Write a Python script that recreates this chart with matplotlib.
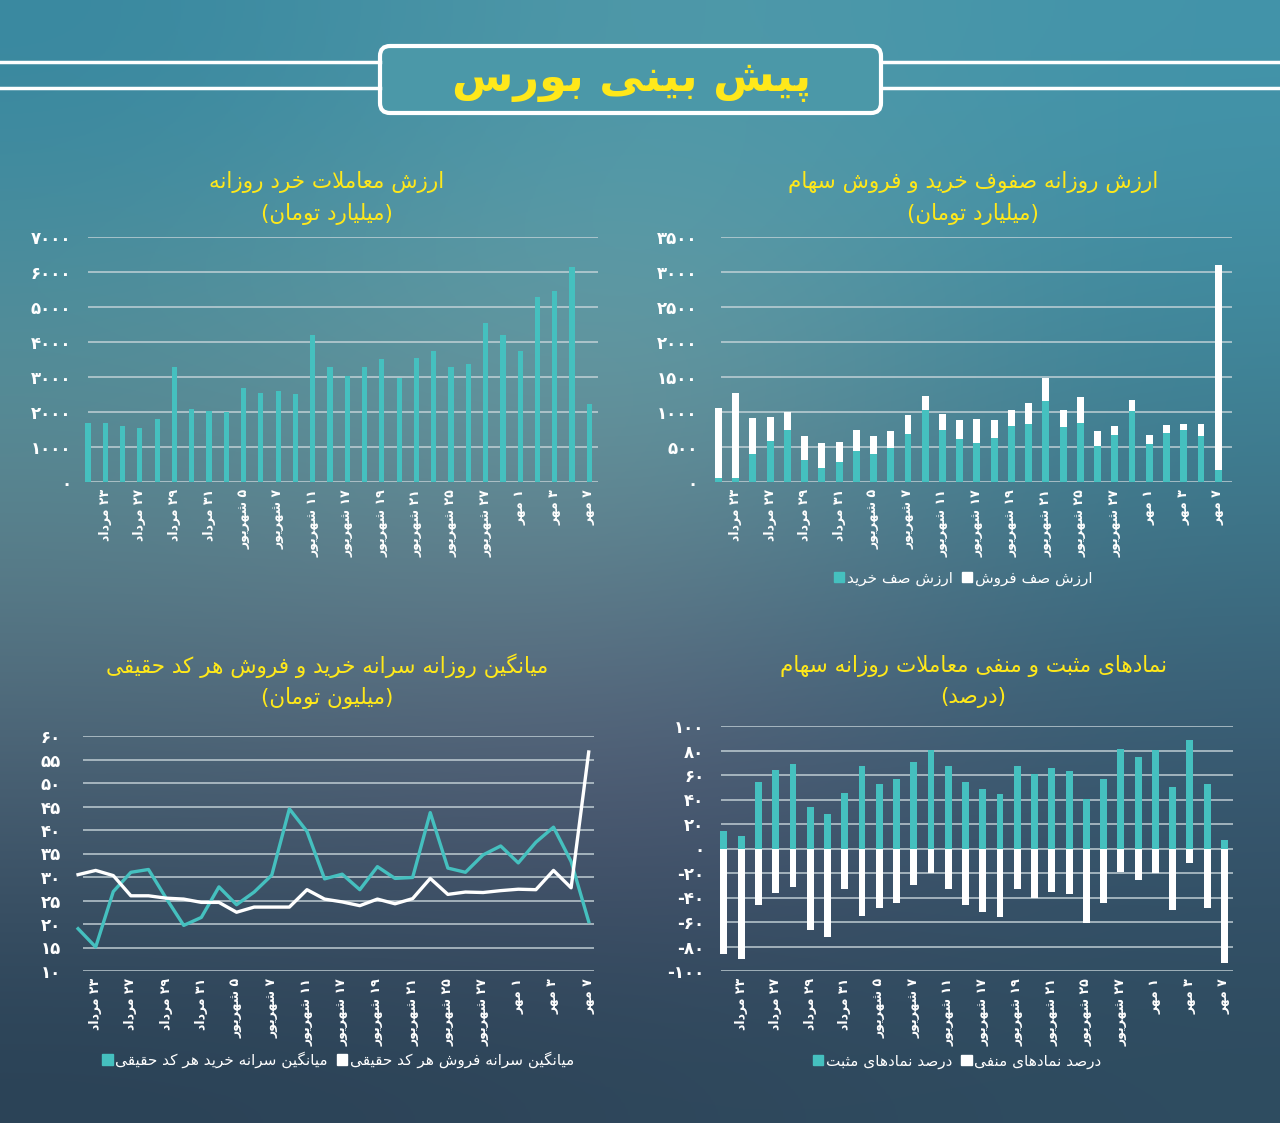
import re
import numpy as np
import matplotlib
matplotlib.use('Agg')
import matplotlib.pyplot as plt
from matplotlib.patches import FancyBboxPatch, Patch

plt.rcParams['font.family'] = ['DejaVu Sans']

# ---- data ----
dates = ['۲۳ مرداد', '۲۷ مرداد', '۲۹ مرداد', '۳۱ مرداد', '۵ شهریور', '۷ شهریور',
         '۱۱ شهریور', '۱۷ شهریور', '۱۹ شهریور', '۲۱ شهریور', '۲۵ شهریور',
         '۲۷ شهریور', '۱ مهر', '۳ مهر', '۷ مهر']

retail_value = [1700, 1690, 1600, 1545, 1790, 3280, 2080, 2030, 2000, 2690,
                2530, 2610, 2510, 4210, 3290, 3030, 3280, 3510, 2980, 3540,
                3740, 3280, 3360, 4550, 4210, 3740, 5280, 5470, 6140, 2220]

buy_queue = [62, 57, 403, 588, 740, 308, 204, 284, 446, 403,
             479, 692, 1029, 749, 621, 560, 631, 797, 835, 1162,
             787, 849, 517, 678, 1015, 541, 702, 749, 654, 175]
queue_total = [1053, 1271, 915, 929, 996, 664, 564, 578, 749, 664,
               735, 963, 1233, 977, 887, 896, 887, 1034, 1128, 1479,
               1024, 1209, 735, 801, 1166, 669, 811, 830, 825, 3096]
sell_queue = [t - b for t, b in zip(queue_total, buy_queue)]

buy_per_code = [19.0, 15.1, 26.9, 31.0, 31.6, 25.5, 19.7, 21.4, 27.9, 24.1,
                26.8, 30.4, 44.5, 39.7, 29.6, 30.6, 27.3, 32.2, 29.7, 29.9,
                43.7, 31.9, 31.0, 34.7, 36.6, 33.0, 37.4, 40.6, 33.3, 20.5]
sell_per_code = [30.5, 31.4, 30.3, 26.0, 26.0, 25.5, 25.3, 24.6, 24.6, 22.5,
                 23.6, 23.6, 23.6, 27.3, 25.3, 24.7, 23.9, 25.3, 24.3, 25.4,
                 29.7, 26.3, 26.8, 26.7, 27.1, 27.4, 27.3, 31.4, 27.7, 56.6]

positive_pct = [14.2, 10.4, 54.2, 64.0, 69.2, 34.1, 28.1, 45.2, 67.3, 52.3,
                56.4, 70.3, 80.4, 67.3, 54.2, 48.2, 44.1, 67.3, 60.5, 65.4,
                63.2, 40.1, 56.4, 81.2, 74.4, 80.4, 50.1, 88.6, 52.3, 6.8]
negative_pct = [-86.4, -90.2, -46.0, -36.0, -31.3, -66.2, -72.2, -33.0, -55.0, -48.5,
                -44.1, -30.0, -20.2, -33.0, -46.0, -52.0, -56.1, -33.0, -40.1, -35.4,
                -37.1, -60.5, -44.1, -19.1, -25.9, -20.2, -50.1, -12.0, -48.2, -93.5]

# ---- simple persian shaping (matplotlib has no RTL layout) ----
FORMS = {
    'ا': ('\uFE8D', '\uFE8E', None, None), 'آ': ('\uFE81', '\uFE82', None, None),
    'ب': ('\uFE8F', '\uFE90', '\uFE91', '\uFE92'), 'پ': ('\uFB56', '\uFB57', '\uFB58', '\uFB59'),
    'ت': ('\uFE95', '\uFE96', '\uFE97', '\uFE98'), 'ث': ('\uFE99', '\uFE9A', '\uFE9B', '\uFE9C'),
    'ج': ('\uFE9D', '\uFE9E', '\uFE9F', '\uFEA0'), 'چ': ('\uFB7A', '\uFB7B', '\uFB7C', '\uFB7D'),
    'ح': ('\uFEA1', '\uFEA2', '\uFEA3', '\uFEA4'), 'خ': ('\uFEA5', '\uFEA6', '\uFEA7', '\uFEA8'),
    'د': ('\uFEA9', '\uFEAA', None, None), 'ذ': ('\uFEAB', '\uFEAC', None, None),
    'ر': ('\uFEAD', '\uFEAE', None, None), 'ز': ('\uFEAF', '\uFEB0', None, None),
    'ژ': ('\uFB8A', '\uFB8B', None, None),
    'س': ('\uFEB1', '\uFEB2', '\uFEB3', '\uFEB4'), 'ش': ('\uFEB5', '\uFEB6', '\uFEB7', '\uFEB8'),
    'ص': ('\uFEB9', '\uFEBA', '\uFEBB', '\uFEBC'), 'ض': ('\uFEBD', '\uFEBE', '\uFEBF', '\uFEC0'),
    'ط': ('\uFEC1', '\uFEC2', '\uFEC3', '\uFEC4'), 'ظ': ('\uFEC5', '\uFEC6', '\uFEC7', '\uFEC8'),
    'ع': ('\uFEC9', '\uFECA', '\uFECB', '\uFECC'), 'غ': ('\uFECD', '\uFECE', '\uFECF', '\uFED0'),
    'ف': ('\uFED1', '\uFED2', '\uFED3', '\uFED4'), 'ق': ('\uFED5', '\uFED6', '\uFED7', '\uFED8'),
    'ک': ('\uFB8E', '\uFB8F', '\uFB90', '\uFB91'), 'گ': ('\uFB92', '\uFB93', '\uFB94', '\uFB95'),
    'ل': ('\uFEDD', '\uFEDE', '\uFEDF', '\uFEE0'), 'م': ('\uFEE1', '\uFEE2', '\uFEE3', '\uFEE4'),
    'ن': ('\uFEE5', '\uFEE6', '\uFEE7', '\uFEE8'), 'و': ('\uFEED', '\uFEEE', None, None),
    'ه': ('\uFEE9', '\uFEEA', '\uFEEB', '\uFEEC'), 'ی': ('\uFBFC', '\uFBFD', '\uFBFE', '\uFBFF'),
}


def shape(s):
    out = []
    i = 0
    while i < len(s):
        c = s[i]
        if c not in FORMS:
            out.append(c)
            i += 1
            continue
        prev = s[i - 1] if i > 0 else ''
        nxt = s[i + 1] if i + 1 < len(s) else ''
        join_prev = prev in FORMS and FORMS[prev][2] is not None
        if c == 'ل' and nxt in ('ا', 'آ') and nxt != '':
            if nxt == 'ا':
                out.append('\uFEFC' if join_prev else '\uFEFB')
            else:
                out.append('\uFEF6' if join_prev else '\uFEF5')
            i += 2
            continue
        join_next = nxt in FORMS and FORMS[c][2] is not None
        iso, fin, ini, med = FORMS[c]
        if join_prev and join_next:
            out.append(med)
        elif join_prev:
            out.append(fin)
        elif join_next:
            out.append(ini)
        else:
            out.append(iso)
        i += 1
    return ''.join(out)


def fa(s):
    r = shape(s)[::-1]
    r = re.sub(r'[0-9۰-۹]+', lambda m: m.group(0)[::-1], r)
    return r.translate(str.maketrans('()', ')('))


def fa_num(v):
    return str(v).translate(str.maketrans('0123456789', '۰۱۲۳۴۵۶۷۸۹'))


# ---- colours ----
TEAL = '#45c0bf'
YELLOW = '#ffe81a'
GRID = '#c9d6db'
W, H = 1280, 1123

fig = plt.figure(figsize=(12.8, 11.23), dpi=100)

# background gradient
bg = fig.add_axes([0, 0, 1, 1])
cols = np.array([
    [[56, 136, 160], [84, 156, 170], [66, 148, 170]],
    [[84, 144, 154], [114, 162, 167], [62, 134, 154]],
    [[90, 126, 138], [100, 130, 142], [60, 112, 132]],
    [[72, 94, 114], [86, 88, 116], [55, 86, 110]],
    [[42, 66, 86], [46, 70, 90], [46, 76, 96]],
]) / 255.0
bg.imshow(cols, extent=[0, W, H, 0], aspect='auto', interpolation='bicubic')
bg.set_xlim(0, W)
bg.set_ylim(H, 0)
bg.axis('off')

# header box and lines
for yy in (62, 88):
    bg.plot([0, 380], [yy, yy], color='white', lw=2.5)
    bg.plot([881, W], [yy, yy], color='white', lw=2.5)
box = FancyBboxPatch((380, 46), 501, 67, boxstyle='round,pad=0,rounding_size=10',
                     facecolor='#4b98a8', edgecolor='white', lw=3)
bg.add_patch(box)
bg.text(632, 80, fa('پیش بینی بورس'), color=YELLOW, fontsize=32, fontweight='bold',
        ha='center', va='center')


def px_axes(x0, x1, y0, y1):
    return fig.add_axes([x0 / W, 1 - y1 / H, (x1 - x0) / W, (y1 - y0) / H])


def style(ax, ticks, tick_labels, pad):
    ax.set_facecolor('none')
    for s in ax.spines.values():
        s.set_visible(False)
    ax.set_yticks(ticks)
    ax.set_yticklabels(tick_labels)
    ax.tick_params(axis='y', length=0, pad=pad, colors='white', labelsize=12)
    for t in ax.get_yticklabels():
        t.set_fontweight('bold')
    ax.grid(axis='y', color=GRID, lw=1.2, alpha=0.85)
    ax.set_axisbelow(True)
    ax.set_xticks(range(1, 30, 2))
    ax.set_xticklabels([fa(d) for d in dates], rotation=90)
    ax.tick_params(axis='x', length=0, pad=5, colors='white', labelsize=9)
    for t in ax.get_xticklabels():
        t.set_fontweight('bold')


def titles(cx, y1, y2, line1, line2):
    fig.text(cx / W, 1 - y1 / H, fa(line1), color=YELLOW, fontsize=15.5,
             ha='center', va='center')
    fig.text(cx / W, 1 - y2 / H, fa(line2), color=YELLOW, fontsize=15.5,
             ha='center', va='center')


def legend(handles, cx, cy):
    fig.legend(handles=handles, loc='center', bbox_to_anchor=(cx / W, 1 - cy / H), ncol=2,
               frameon=False, handlelength=0.7, handleheight=0.7, handletextpad=0.15,
               columnspacing=0.6, labelcolor='white', fontsize=11)


x = np.arange(30)

# chart 1: retail trades value
ax1 = px_axes(88, 598, 237, 482)
ax1.bar(x, retail_value, width=0.3, color=TEAL, clip_on=False, zorder=3)
ax1.set_xlim(0, 29.5)
ax1.set_ylim(0, 7000)
style(ax1, range(0, 7001, 1000), [fa_num(v) for v in range(0, 7001, 1000)], 12)
titles(327, 182, 214, 'ارزش معاملات خرد روزانه', '(میلیارد تومان)')

# chart 2: buy / sell queues
ax2 = px_axes(721, 1232, 237, 482)
ax2.bar(x, buy_queue, width=0.4, color=TEAL, clip_on=False, zorder=3)
ax2.bar(x, sell_queue, bottom=buy_queue, width=0.4, color='white', clip_on=False, zorder=3)
ax2.set_xlim(0.15, 29.8)
ax2.set_ylim(0, 3500)
style(ax2, range(0, 3501, 500), [fa_num(v) for v in range(0, 3501, 500)], 17)
titles(973, 182, 214, 'ارزش روزانه صفوف خرید و فروش سهام', '(میلیارد تومان)')
legend([Patch(color=TEAL, label=fa('ارزش صف خرید')),
        Patch(color='white', label=fa('ارزش صف فروش'))], 963, 578)

# chart 3: per-code buy / sell
ax3 = px_axes(83, 594, 736, 971)
ax3.plot(x, buy_per_code, color=TEAL, lw=2.4, clip_on=False, zorder=3)
ax3.plot(x, sell_per_code, color='white', lw=2.4, clip_on=False, zorder=3)
ax3.set_xlim(0.28, 29.3)
ax3.set_ylim(10, 60)
style(ax3, range(10, 61, 5), [fa_num(v) for v in range(10, 61, 5)], 16)
titles(327, 666, 698, 'میانگین روزانه سرانه خرید و فروش هر کد حقیقی', '(میلیون تومان)')
legend([Patch(color=TEAL, label=fa('میانگین سرانه خرید هر کد حقیقی')),
        Patch(color='white', label=fa('میانگین سرانه فروش هر کد حقیقی'))], 338, 1060)

# chart 4: positive / negative symbols
ax4 = px_axes(721, 1233, 726, 971)
ax4.bar(x, positive_pct, width=0.4, color=TEAL, clip_on=False, zorder=3)
ax4.bar(x, negative_pct, width=0.4, color='white', clip_on=False, zorder=3)
ax4.set_xlim(-0.17, 29.5)
ax4.set_ylim(-100, 100)
yt4 = list(range(-100, 101, 20))
style(ax4, yt4, [('-' + fa_num(-v)) if v < 0 else fa_num(v) for v in yt4], 12)
titles(973, 666, 698, 'نمادهای مثبت و منفی معاملات روزانه سهام', '(درصد)')
legend([Patch(color=TEAL, label=fa('درصد نمادهای مثبت')),
        Patch(color='white', label=fa('درصد نمادهای منفی'))], 957, 1061)

fig.savefig('out.png', dpi=100)
